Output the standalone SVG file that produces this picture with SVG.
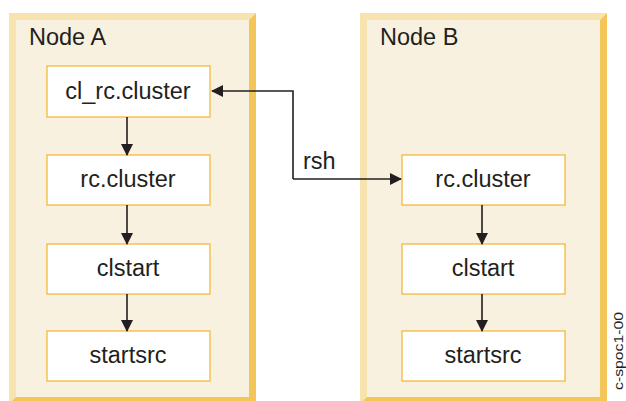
<svg xmlns="http://www.w3.org/2000/svg" width="626" height="401" viewBox="0 0 626 401">
<style>
.lt{fill:#f7e3ad}
.dk{fill:#f4c65a}
.in{fill:#f8f1df}
.box{fill:#fff;stroke:#f5b42a;stroke-width:1.2}
.t{font-family:"Liberation Sans",Arial,sans-serif;fill:#231f20}
.bl{font-size:23.5px;text-anchor:middle}
.hd{font-size:23.5px}
.ln{fill:none;stroke:#231f20;stroke-width:1.6}
</style>
<defs>
<marker id="ah" viewBox="0 0 12 12" refX="11" refY="6" markerWidth="12" markerHeight="12" markerUnits="userSpaceOnUse" orient="auto">
<path d="M0,0 L12,6 L0,12 Z" fill="#231f20"/>
</marker>
</defs>
<g id="nodeA">
<polygon class="lt" points="9,13 256,13 249,20 16,20 16,404 9,404"/>
<polygon class="dk" points="256,13 256,404 249,404 249,20"/>
<polygon class="dk" points="9,404 256,404 249,397 16,397"/>
<rect class="in" x="16" y="20" width="233" height="377"/>
<text class="t hd" x="29" y="45">Node A</text>
</g>
<g id="nodeB">
<polygon class="lt" points="360,13 607,13 600,20 367,20 367,404 360,404"/>
<polygon class="dk" points="607,13 607,404 600,404 600,20"/>
<polygon class="dk" points="360,404 607,404 600,397 367,397"/>
<rect class="in" x="367" y="20" width="233" height="377"/>
<text class="t hd" x="380" y="45">Node B</text>
</g>
<g id="a_clrc"><rect class="box" x="47" y="66" width="163" height="51"/><text class="t bl" x="128" y="99">cl_rc.cluster</text></g>
<g id="a_rc"><rect class="box" x="47" y="155" width="163" height="50"/><text class="t bl" x="128" y="187">rc.cluster</text></g>
<g id="a_clstart"><rect class="box" x="47" y="244" width="163" height="50"/><text class="t bl" x="128" y="276">clstart</text></g>
<g id="a_startsrc"><rect class="box" x="47" y="331" width="163" height="50"/><text class="t bl" x="128" y="363">startsrc</text></g>
<g id="b_rc"><rect class="box" x="402" y="155" width="163" height="50"/><text class="t bl" x="483" y="187">rc.cluster</text></g>
<g id="b_clstart"><rect class="box" x="402" y="244" width="163" height="50"/><text class="t bl" x="483" y="276">clstart</text></g>
<g id="b_startsrc"><rect class="box" x="402" y="331" width="163" height="50"/><text class="t bl" x="483" y="363">startsrc</text></g>
<g id="connectors">
<line class="ln" x1="127" y1="117" x2="127" y2="155" marker-end="url(#ah)"/>
<line class="ln" x1="127" y1="205" x2="127" y2="244" marker-end="url(#ah)"/>
<line class="ln" x1="127" y1="294" x2="127" y2="331" marker-end="url(#ah)"/>
<line class="ln" x1="482" y1="205" x2="482" y2="244" marker-end="url(#ah)"/>
<line class="ln" x1="482" y1="294" x2="482" y2="331" marker-end="url(#ah)"/>
<polyline class="ln" points="293,179 293,91 212,91" marker-end="url(#ah)"/>
<polyline class="ln" points="293,179 401,179" marker-end="url(#ah)"/>
<text class="t" x="303" y="169" font-size="23.5">rsh</text>
</g>
<text class="t" font-size="13" textLength="78" lengthAdjust="spacingAndGlyphs" transform="translate(623,390) rotate(-90)">c-spoc1-00</text>
</svg>
